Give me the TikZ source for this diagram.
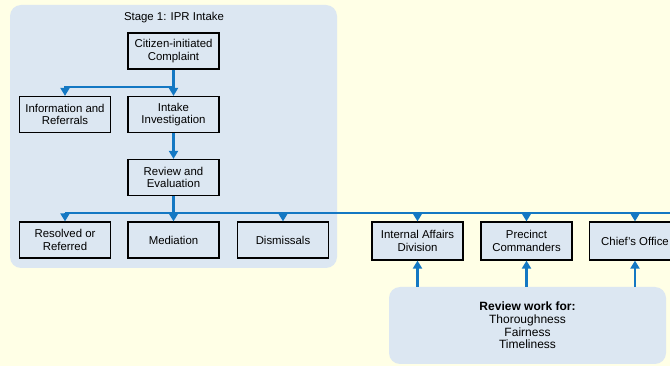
\documentclass[tikz,border=0pt]{standalone}
\usepackage{fontspec}
\setmainfont{Liberation Sans}
\usetikzlibrary{arrows.meta}
\definecolor{iprblue}{HTML}{1478C3}
\definecolor{panelblue}{HTML}{DCE7F2}
\definecolor{paleyellow}{HTML}{FFFFE6}

\begin{document}
\begin{tikzpicture}[x=1pt,y=-1pt,
font=\fontsize{11.4}{12.6}\selectfont
]
    \tikzstyle{stage box}=[draw,line width=1.2pt,fill=panelblue,minimum width=91pt,minimum height=36pt,align=center,inner sep=1pt]
    \tikzstyle{flow}=[draw=iprblue,line width=2.4pt,-{Triangle[width=9pt,length=8pt]}]
    \tikzstyle{bus}=[draw=iprblue,line width=2.4pt]
    \tikzstyle{panel}=[fill=panelblue,rounded corners=11pt]

    \clip (0,0) rectangle (670,366);
    \fill[paleyellow] (0,0) rectangle (670,366);

    % stage 1 panel
    \fill[panel] (10,5) rectangle (337,268);
    \node(stage title) at (174,18) {Stage 1: IPR Intake};

    \node(complaint)[stage box] at (173.5,51) {Citizen-initiated\\Complaint};
    \node(info)[stage box] at (65,114.5) {Information and\\Referrals};
    \node(intake)[stage box] at (173.5,114.5) {Intake\\Investigation};
    \node(review)[stage box] at (173.5,177.5) {Review and\\Evaluation};
    \node(resolved)[stage box] at (65,240) {Resolved or\\Referred};
    \node(mediation)[stage box] at (173.5,240) {Mediation};
    \node(dismissals)[stage box] at (283,240) {Dismissals};

    % police side
    \node(iad)[stage box,minimum height=38pt] at (417.5,241) {Internal Affairs\\Division};
    \node(precinct)[stage box,minimum height=38pt] at (526.5,241) {Precinct\\Commanders};
    \node(chief)[stage box,minimum height=38pt] at (635,241) {Chief's Office};

    \node(review panel)[panel,minimum width=277pt,minimum height=77pt,align=center,
        font=\fontsize{12}{12.7}\selectfont] at (527.5,325.5)
        {\textbf{Review work for:}\\Thoroughness\\Fairness\\Timeliness};

    % connectors
    \coordinate(split) at (173.5,87);
    \coordinate(bus) at (173.5,213);
    \coordinate(bus end) at (672,213);

    \draw[flow] (complaint) -- (intake);
    \draw[flow] (split) -| (info);
    \draw[flow] (intake) -- (review);
    \draw[flow] (review) -- (mediation);
    \draw[bus] (bus -| resolved) -- (bus end);
    \foreach \n in {resolved,dismissals,iad,precinct,chief}
        \draw[flow] (bus -| \n) -- (\n);
    \foreach \n in {iad,precinct,chief}
        \draw[flow] (review panel.north -| \n) -- (\n);
\end{tikzpicture}
\end{document}
